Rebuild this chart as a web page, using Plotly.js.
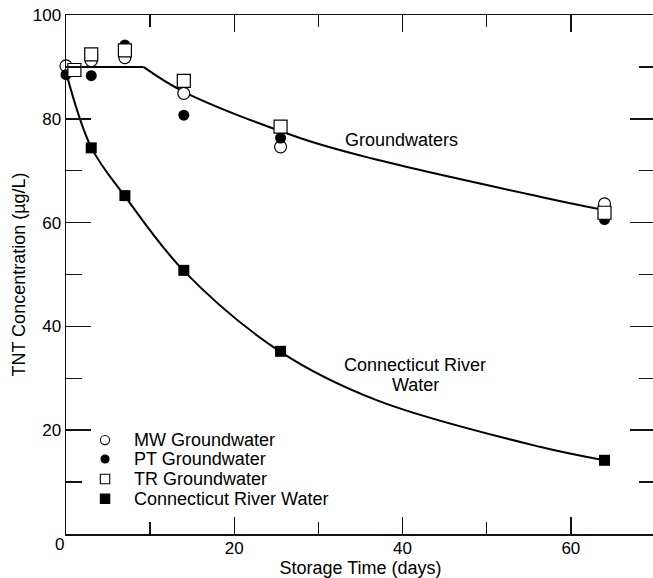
<!DOCTYPE html>
<html>
<head>
<meta charset="utf-8">
<script src="https://cdn.plot.ly/plotly-3.0.1.min.js"></script>
<style>
html,body{margin:0;padding:0;overflow:hidden;background:#fff;}
#chart{width:664px;height:578px;}
</style>
</head>
<body>
<div id="chart"></div>
<script>
// ---- data ----
const seriesNames = ['MW Groundwater', 'PT Groundwater', 'TR Groundwater', 'Connecticut River Water'];

const mwDays = [0, 3, 7, 14, 25.5, 64];
const mwConc = [90.2, 91.2, 91.8, 84.9, 74.6, 63.6];

const ptDays = [0, 3, 7, 14, 25.5, 64];
const ptConc = [88.5, 88.3, 94.2, 80.7, 76.3, 60.6];

const trDays = [1, 3, 7, 14, 25.5, 64];
const trConc = [89.4, 92.4, 93.2, 87.3, 78.5, 61.9];

const crDays = [-0.5, 3, 7, 14, 25.5, 64];
const crConc = [89.0, 74.4, 65.2, 50.8, 35.2, 14.2];

// fitted curves
const gwFlatDays = [0, 9.2];
const gwFlatConc = [90, 90];
const gwCurveDays = [9.2, 14, 27.8, 36.5, 56.3, 64];
const gwCurveConc = [90, 85.2, 76.3, 72.3, 65.0, 62.4];

const crFitDays = [0, 3, 7, 14, 25.5, 36.9, 56.3, 64];
const crFitConc = [89, 74.5, 65.1, 50.7, 35.1, 25.8, 16.8, 14.2];

const xTickVals = [20, 40, 60];
const xMinorVals = [10, 30, 50];
const yTickVals = [20, 40, 60, 80, 100];
const yMinorVals = [10, 30, 50, 70, 90];

const FONT = 'Liberation Sans, Arial, Helvetica, sans-serif';
const lineStyle = {color: '#000', width: 2};

const traces = [
  {x: gwFlatDays, y: gwFlatConc, mode: 'lines', line: lineStyle, hoverinfo: 'skip'},
  {x: gwCurveDays, y: gwCurveConc, mode: 'lines', line: Object.assign({shape: 'spline', smoothing: 1}, lineStyle), hoverinfo: 'skip'},
  {x: crFitDays, y: crFitConc, mode: 'lines', line: Object.assign({shape: 'spline', smoothing: 1}, lineStyle), hoverinfo: 'skip'},
  {name: seriesNames[0], x: mwDays, y: mwConc, mode: 'markers', cliponaxis: false,
   marker: {symbol: 'circle', size: 12, color: '#fff', line: {color: '#000', width: 1.2}}},
  {name: seriesNames[1], x: ptDays, y: ptConc, mode: 'markers', cliponaxis: false,
   marker: {symbol: 'circle', size: 11, color: '#000', line: {color: '#000', width: 0}}},
  {name: seriesNames[2], x: trDays, y: trConc, mode: 'markers', cliponaxis: false,
   marker: {symbol: 'square', size: 13, color: '#fff', line: {color: '#000', width: 1.2}}},
  {name: seriesNames[3], x: crDays, y: crConc, mode: 'markers', cliponaxis: false,
   marker: {symbol: 'square', size: 11, color: '#000', line: {color: '#000', width: 0}}}
];

// custom legend (symbols + labels) placed inside the plot
const legX = 4.64, legTextX = 7.8;
const legY = [18.1, 14.45, 10.6, 6.8];
const legSym = [
  {type: 'circle', half: 4.6, fill: '#fff'},
  {type: 'circle', half: 4.0, fill: '#000'},
  {type: 'rect', half: 4.7, fill: '#fff'},
  {type: 'rect', half: 4.7, fill: '#000'}
];
const shapes = legSym.map((s, i) => ({
  type: s.type, xref: 'x', yref: 'y', xsizemode: 'pixel', ysizemode: 'pixel',
  xanchor: legX, yanchor: legY[i], x0: -s.half, x1: s.half, y0: -s.half, y1: s.half,
  fillcolor: s.fill, line: {color: '#000', width: 1.1}
}));

const annotations = seriesNames.map((n, i) => ({
  text: n, xref: 'x', yref: 'y', x: legTextX, y: legY[i], xanchor: 'left', yanchor: 'middle',
  showarrow: false, font: {family: FONT, size: 18, color: '#000'}
}));
annotations.push(
  {text: 'Groundwaters', xref: 'x', yref: 'y', x: 39.93, y: 75.9, showarrow: false,
   xanchor: 'center', yanchor: 'middle', font: {family: FONT, size: 18, color: '#000'}},
  {text: 'Connecticut River', xref: 'x', yref: 'y', x: 41.5, y: 32.6, showarrow: false,
   xanchor: 'center', yanchor: 'middle', font: {family: FONT, size: 18, color: '#000'}},
  {text: 'Water', xref: 'x', yref: 'y', x: 41.5, y: 28.7, showarrow: false,
   xanchor: 'center', yanchor: 'middle', font: {family: FONT, size: 18, color: '#000'}},
  {text: '0', xref: 'paper', yref: 'paper', x: -0.0102, y: -0.0193, showarrow: false,
   xanchor: 'center', yanchor: 'middle', font: {family: FONT, size: 17, color: '#000'}}
);

const axisCommon = {
  ticks: 'inside', tickwidth: 1.5, tickcolor: '#111',
  showline: true, linewidth: 1.5, linecolor: '#111', mirror: 'ticks',
  showgrid: false, zeroline: false,
  tickfont: {family: FONT, size: 17, color: '#000'}
};

const layout = {
  width: 664, height: 578,
  margin: {l: 66, r: 9, t: 15, b: 44, pad: 0},
  paper_bgcolor: '#fff', plot_bgcolor: '#fff',
  showlegend: false,
  font: {family: FONT, size: 18, color: '#000'},
  xaxis: Object.assign({}, axisCommon, {
    range: [0, 70], tickmode: 'array', tickvals: xTickVals, ticktext: xTickVals.map(String),
    ticklen: 17, ticklabelstandoff: -2,
    minor: {tickmode: 'array', tickvals: xMinorVals, ticks: 'inside', ticklen: 12, tickwidth: 1.5, tickcolor: '#111', showgrid: false},
    title: {text: 'Storage Time (days)', font: {family: FONT, size: 18, color: '#000'}, standoff: 4}
  }),
  yaxis: Object.assign({}, axisCommon, {
    range: [0, 100], tickmode: 'array', tickvals: yTickVals, ticktext: yTickVals.map(String),
    ticklen: 25,
    minor: {tickmode: 'array', tickvals: yMinorVals, ticks: 'inside', ticklen: 16, tickwidth: 1.5, tickcolor: '#111', showgrid: false},
    title: {text: 'TNT Concentration (µg/L)', font: {family: FONT, size: 18, color: '#000'}, standoff: 2}
  }),
  shapes: shapes,
  annotations: annotations
};

Plotly.newPlot('chart', traces, layout, {staticPlot: true, displayModeBar: false});
</script>
</body>
</html>
